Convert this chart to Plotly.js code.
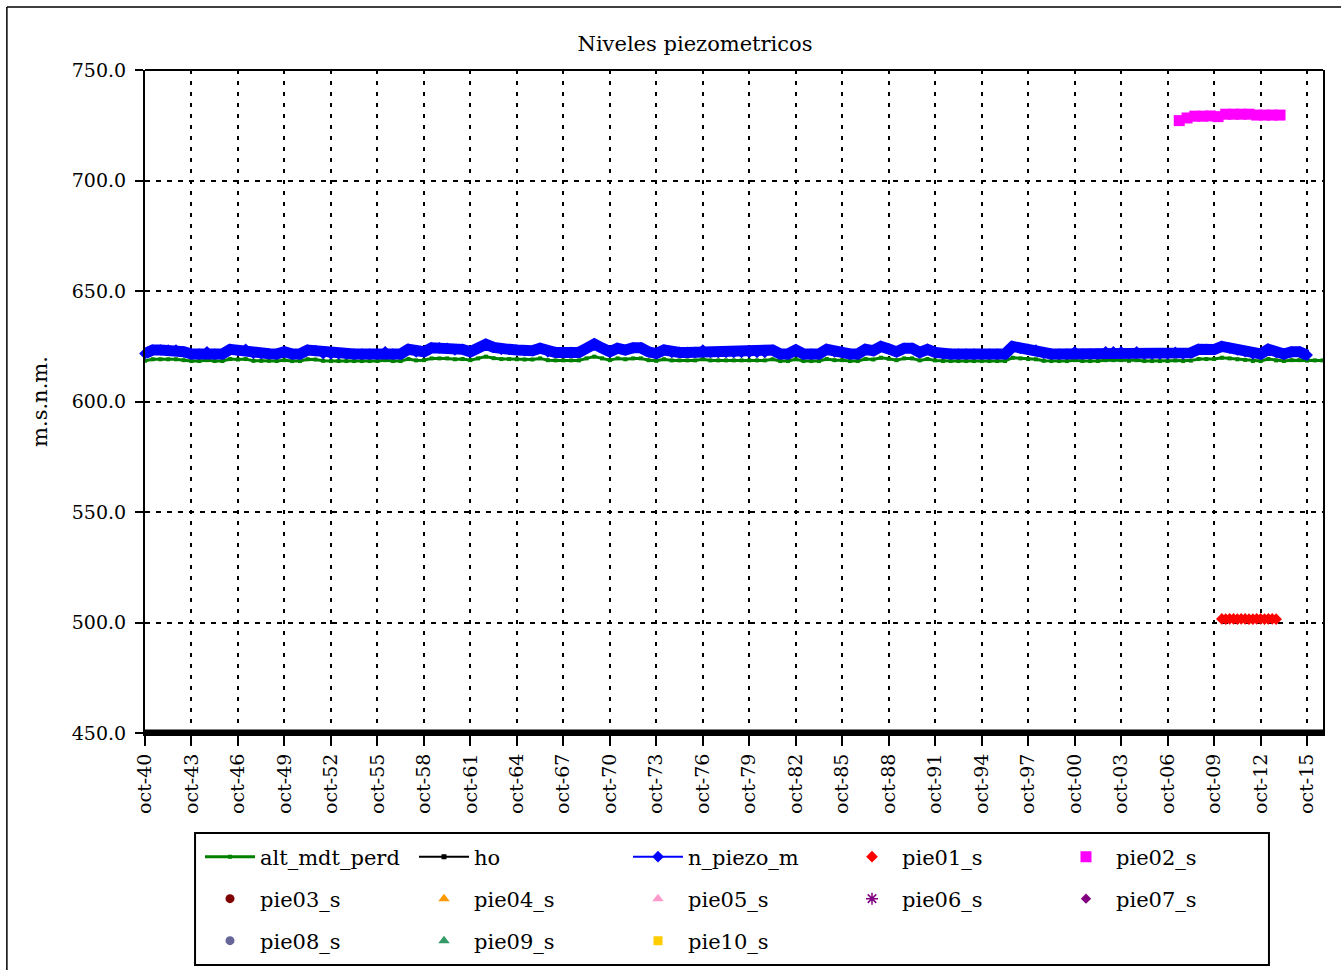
<!DOCTYPE html>
<html><head><meta charset="utf-8">
<script src="https://cdn.plot.ly/plotly-3.0.1.min.js"></script>
<style>html,body{margin:0;padding:0;background:#fff}#chart{width:1341px;height:970px}</style>
</head><body><div id="chart"></div>
<script>
// half-yearly dates (Oct 1940 - Oct 2016)
const dates = [
"1940-10","1941-04","1941-10","1942-04","1942-10","1943-04","1943-10","1944-04","1944-10","1945-04",
"1945-10","1946-04","1946-10","1947-04","1947-10","1948-04","1948-10","1949-04","1949-10","1950-04",
"1950-10","1951-04","1951-10","1952-04","1952-10","1953-04","1953-10","1954-04","1954-10","1955-04",
"1955-10","1956-04","1956-10","1957-04","1957-10","1958-04","1958-10","1959-04","1959-10","1960-04",
"1960-10","1961-04","1961-10","1962-04","1962-10","1963-04","1963-10","1964-04","1964-10","1965-04",
"1965-10","1966-04","1966-10","1967-04","1967-10","1968-04","1968-10","1969-04","1969-10","1970-04",
"1970-10","1971-04","1971-10","1972-04","1972-10","1973-04","1973-10","1974-04","1974-10","1975-04",
"1975-10","1976-04","1976-10","1977-04","1977-10","1978-04","1978-10","1979-04","1979-10","1980-04",
"1980-10","1981-04","1981-10","1982-04","1982-10","1983-04","1983-10","1984-04","1984-10","1985-04",
"1985-10","1986-04","1986-10","1987-04","1987-10","1988-04","1988-10","1989-04","1989-10","1990-04",
"1990-10","1991-04","1991-10","1992-04","1992-10","1993-04","1993-10","1994-04","1994-10","1995-04",
"1995-10","1996-04","1996-10","1997-04","1997-10","1998-04","1998-10","1999-04","1999-10","2000-04",
"2000-10","2001-04","2001-10","2002-04","2002-10","2003-04","2003-10","2004-04","2004-10","2005-04",
"2005-10","2006-04","2006-10","2007-04","2007-10","2008-04","2008-10","2009-04","2009-10","2010-04",
"2010-10","2011-04","2011-10","2012-04","2012-10","2013-04","2013-10","2014-04","2014-10","2015-04",
"2015-10","2016-04","2016-10"
];

const altMdtPerd = [
618.4,619.1,619.1,619.1,619.1,618.7,618.3,618.3,618.7,618.3,
618.3,619.2,619.0,619.2,618.4,618.4,618.4,618.3,618.7,618.3,
618.3,619.1,619.0,618.4,618.3,618.3,618.3,618.3,618.3,618.3,
618.3,618.7,618.3,618.3,619.2,618.6,618.7,619.5,619.5,619.5,
619.1,619.2,618.7,619.5,620.3,619.6,619.2,619.2,619.1,619.0,
619.0,619.5,618.7,618.6,618.6,618.6,618.6,619.5,620.3,619.5,
618.7,619.5,619.1,619.5,619.5,618.7,618.4,619.1,618.6,618.6,
618.6,618.6,619.1,618.6,618.6,618.6,618.6,618.6,618.6,618.6,
618.6,619.1,618.3,618.3,619.1,618.3,618.3,618.3,619.2,618.7,
618.7,618.3,618.3,619.2,619.0,619.8,619.3,618.7,619.5,619.5,
618.6,619.2,618.6,618.3,618.3,618.3,618.3,618.3,618.3,618.3,
618.3,618.3,619.8,619.5,619.2,619.1,618.4,618.3,618.3,618.3,
618.7,618.3,618.3,618.3,618.7,618.7,618.7,618.4,618.7,618.3,
618.3,618.3,618.3,618.6,618.3,618.5,619.2,619.2,619.2,619.8,
619.5,619.1,618.8,618.3,618.3,619.2,618.6,618.3,618.7,618.7,
618.5,618.6,618.6
];

const nPiezoM = [
621.7,623.3,623.3,623.3,623.3,622.5,621.5,621.5,622.5,621.5,
621.5,623.6,623.0,623.6,621.8,621.6,621.6,621.5,622.5,621.5,
621.5,623.3,623.0,621.7,621.5,621.5,621.5,621.5,621.5,621.5,
621.5,622.5,621.5,621.5,623.6,622.4,622.5,624.3,624.3,624.0,
623.3,623.6,622.5,624.1,625.9,624.5,623.6,623.6,623.3,623.0,
623.0,624.1,622.5,622.2,622.2,622.2,622.2,624.1,626.0,624.2,
622.5,624.1,623.3,624.3,624.3,622.5,621.7,623.3,622.2,622.2,
622.2,622.2,623.3,622.2,622.2,622.2,622.2,622.2,622.2,622.2,
622.2,623.3,621.5,621.5,623.3,621.5,621.5,621.5,623.6,622.5,
622.5,621.5,621.5,623.6,623.0,624.9,623.8,622.5,624.1,624.1,
622.2,623.6,622.2,621.5,621.5,621.5,621.5,621.5,621.5,621.5,
621.5,621.5,624.9,624.0,623.6,623.3,621.8,621.5,621.5,621.5,
622.5,621.5,621.5,621.5,622.5,622.5,622.5,621.6,622.5,621.5,
621.5,621.5,621.5,622.2,621.5,622.0,623.6,623.6,623.5,624.9,
624.1,623.3,622.6,621.5,621.5,623.6,622.2,621.5,622.5,622.5,
621.0
];

const hoDates = ["1940-10-01","2016-10-10"];
const ho = [450, 450];

const pie01Dates = ["2010-04","2010-07","2010-10","2011-01","2011-04","2011-07","2011-10","2012-01","2012-04","2012-07","2012-10","2013-01","2013-04","2013-07","2013-10"];
const pie01 = [501.6,501.5,501.6,501.6,501.5,501.6,501.6,501.5,501.5,501.6,501.6,501.5,501.6,501.6,501.5];

const pie02Dates = ["2007-07","2008-01","2008-07","2009-01","2009-07","2010-01","2010-07","2011-01","2011-07","2012-01","2012-07","2013-01","2013-07","2014-01"];
const pie02 = [727.1,728.3,729.1,729.1,729.2,728.9,730.0,730.0,730.0,730.0,729.6,729.6,729.6,729.6];

// series without data in the period (legend only)
const pie03 = [null], pie04 = [null], pie05 = [null], pie06 = [null], pie07 = [null], pie08 = [null], pie09 = [null], pie10 = [null];

const tickVals = ["1940-10-01","1943-10-01","1946-10-01","1949-10-01","1952-10-01","1955-10-01","1958-10-01","1961-10-01","1964-10-01","1967-10-01","1970-10-01","1973-10-01","1976-10-01","1979-10-01","1982-10-01","1985-10-01","1988-10-01","1991-10-01","1994-10-01","1997-10-01","2000-10-01","2003-10-01","2006-10-01","2009-10-01","2012-10-01","2015-10-01"];
const tickText = ["oct-40","oct-43","oct-46","oct-49","oct-52","oct-55","oct-58","oct-61","oct-64","oct-67","oct-70","oct-73","oct-76","oct-79","oct-82","oct-85","oct-88","oct-91","oct-94","oct-97","oct-00","oct-03","oct-06","oct-09","oct-12","oct-15"];

const FONT = "DejaVu Serif";

function emptyTrace(name, y, symbol, color, size, legend) {
  return {type:"scatter", mode:"markers", name:name, x:[null], y:y, legend:legend,
          marker:{symbol:symbol, color:color, size:size, line:{color:color, width: symbol.indexOf("open")>=0 ? 1.5 : 0}}};
}

const traces = [
  {type:"scatter", mode:"lines+markers", name:"alt_mdt_perd", x:dates, y:altMdtPerd, legend:"legend",
   line:{color:"#008000", width:3}, marker:{symbol:"square", size:4, color:"#008000"}},
  {type:"scatter", mode:"lines", name:"ho", x:hoDates, y:ho, showlegend:false, hoverinfo:"skip",
   line:{color:"#000000", width:7}},
  {type:"scatter", mode:"lines+markers", name:"ho", x:hoDates, y:ho, legend:"legend",
   line:{color:"#000000", width:2}, marker:{symbol:"square", size:5, color:"#000000"}},
  {type:"scatter", mode:"lines", name:"n_piezo_m", x:dates, y:nPiezoM, showlegend:false, hoverinfo:"skip",
   line:{color:"#0000FF", width:11}},
  {type:"scatter", mode:"lines+markers", name:"n_piezo_m", x:dates, y:nPiezoM, legend:"legend", cliponaxis:false,
   line:{color:"#0000FF", width:2}, marker:{symbol:"diamond", size:9, color:"#0000FF"}},
  {type:"scatter", mode:"markers", name:"pie01_s", x:pie01Dates, y:pie01, legend:"legend",
   marker:{symbol:"diamond", size:9, color:"#FF0000"}},
  {type:"scatter", mode:"markers", name:"pie02_s", x:pie02Dates, y:pie02, legend:"legend",
   marker:{symbol:"square", size:11, color:"#FF00FF"}},
  emptyTrace("pie03_s", pie03, "circle", "#800000", 9, "legend2"),
  emptyTrace("pie04_s", pie04, "triangle-up", "#FF9900", 10, "legend2"),
  emptyTrace("pie05_s", pie05, "triangle-up", "#FF99CC", 10, "legend2"),
  emptyTrace("pie06_s", pie06, "asterisk-open", "#800080", 10, "legend2"),
  emptyTrace("pie07_s", pie07, "diamond", "#800080", 8, "legend2"),
  emptyTrace("pie08_s", pie08, "circle", "#666699", 9, "legend3"),
  emptyTrace("pie09_s", pie09, "triangle-up", "#339966", 10, "legend3"),
  emptyTrace("pie10_s", pie10, "square", "#FFCC00", 9, "legend3")
];

function legendRow(yPx) {
  return {orientation:"h", xref:"container", yref:"container", x:200/1341, xanchor:"left",
          y:1 - yPx/970, yanchor:"middle", itemwidth:50, entrywidth:149, entrywidthmode:"pixels",
          font:{family:FONT, size:21, color:"#000"}, bgcolor:"rgba(0,0,0,0)", borderwidth:0,
          traceorder:"normal", itemclick:false, itemdoubleclick:false};
}

const px2x = p => (p - 145) / 1177;
const px2y = p => (733 - p) / 663;

const layout = {
  width:1341, height:970,
  margin:{l:145, r:18, t:70, b:237},
  paper_bgcolor:"#ffffff", plot_bgcolor:"#ffffff",
  font:{family:FONT, color:"#000"},
  title:{text:"Niveles piezometricos", xref:"container", yref:"container", x:695/1341, xanchor:"center",
         y:1 - 44/970, yanchor:"middle", font:{family:FONT, size:21, color:"#000"}},
  xaxis:{type:"date", range:["1940-10-01","2016-10-10"], tickmode:"array", tickvals:tickVals, ticktext:tickText,
         tickangle:-90, tickfont:{family:FONT, size:19, color:"#000"}, ticks:"outside", ticklen:10, tickwidth:2,
         tickcolor:"#000", showline:true, linecolor:"#000", linewidth:3, showgrid:true, gridcolor:"#000",
         gridwidth:2, griddash:"4px,7px", zeroline:false, automargin:false, fixedrange:true},
  yaxis:{range:[450,750], tickmode:"array", tickvals:[450,500,550,600,650,700,750], tickformat:".1f",
         tickfont:{family:FONT, size:19, color:"#000"}, ticks:"outside", ticklen:8, tickwidth:2, tickcolor:"#000",
         ticklabelstandoff:5,
         showline:true, mirror:true, linecolor:"#000", linewidth:2, showgrid:true, gridcolor:"#000", gridwidth:2,
         griddash:"5px,6px", zeroline:false, automargin:false, fixedrange:true,
         title:{text:"m.s.n.m.", standoff:18, font:{family:FONT, size:21, color:"#000"}}},
  legend: legendRow(857),
  legend2: legendRow(899),
  legend3: legendRow(941),
  showlegend:true,
  shapes:[
    {type:"line", xref:"paper", yref:"paper", x0:0, x1:1, y0:1, y1:1, line:{color:"#000", width:2}},
    {type:"rect", xref:"paper", yref:"paper", x0:px2x(195), x1:px2x(1268), y0:px2y(965), y1:px2y(833),
     line:{color:"#000", width:2}, fillcolor:"rgba(0,0,0,0)", layer:"above"},
    {type:"line", xref:"paper", yref:"paper", x0:px2x(7), x1:px2x(7), y0:px2y(975), y1:px2y(7), line:{color:"#000", width:1.5}},
    {type:"line", xref:"paper", yref:"paper", x0:px2x(7), x1:px2x(1345), y0:px2y(7), y1:px2y(7), line:{color:"#000", width:1.5}}
  ]
};

Plotly.newPlot("chart", traces, layout, {displayModeBar:false, staticPlot:true});
</script>
</body></html>
